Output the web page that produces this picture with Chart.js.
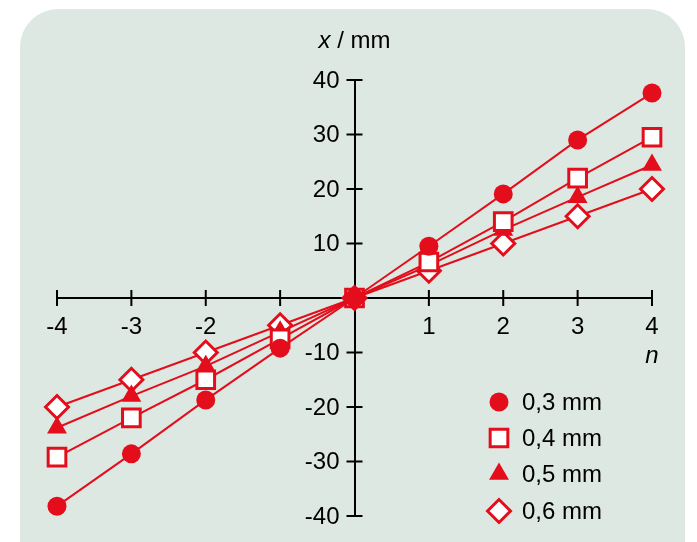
<!DOCTYPE html>
<html>
<head>
<meta charset="utf-8">
<script src="https://cdn.jsdelivr.net/npm/chart.js@4.4.0/dist/chart.umd.min.js"></script>
<style>
  html, body { margin: 0; padding: 0; background: #ffffff; }
  #wrap { position: relative; width: 697px; height: 542px; overflow: hidden; }
  #panel { position: absolute; left: 20px; top: 9px; width: 665px; height: 580px;
           background: #dee8e2; border-radius: 38px; }
  #c { position: absolute; left: 0; top: 0; }
</style>
</head>
<body>
<div id="wrap">
  <div id="panel"></div>
  <canvas id="c" width="697" height="542"></canvas>
</div>
<script>
// n-Werte (x-Achse)
const nValues = [-4, -3, -2, -1, 0, 1, 2, 3, 4];

// Auslenkung x / mm je Spaltabstand
const series03 = [-38.2, -28.6, -18.7, -9.2, 0, 9.5, 19.1, 29.0, 37.6];
const series04 = [-29.2, -22.0, -15.0, -7.5, 0, 6.6, 14.0, 22.0, 29.5];
const series05 = [-23.8, -18.0, -12.5, -6.2, 0, 6.0, 12.5, 18.5, 24.4];
const series06 = [-20.0, -15.0, -10.0, -5.0, 0, 5.0, 10.0, 15.0, 20.0];

const seriesLabels = ['0,3 mm', '0,4 mm', '0,5 mm', '0,6 mm'];
const xTitle = 'n';

const RED = '#e30d1b';
const FONT = '"Liberation Sans", Arial, sans-serif';
const FSIZE = 24;

function toPoints(values) {
  return values.map((v, i) => ({ x: nValues[i], y: v }));
}

function makeSet(label, values, style, filled, radius) {
  return {
    label: label,
    data: toPoints(values),
    borderColor: RED,
    borderWidth: 2,
    pointStyle: style,
    pointRadius: radius,
    pointHoverRadius: radius,
    pointBackgroundColor: filled ? RED : '#ffffff',
    pointBorderColor: RED,
    pointBorderWidth: filled ? 0 : 3,
    clip: false,
    tension: 0
  };
}

// Achsen-Striche kreuzen die Achse, y-Beschriftung + Achsentitel
const crossTicks = {
  id: 'crossTicks',
  beforeDatasetsDraw(chart) {
    const ctx = chart.ctx;
    const xs = chart.scales.x, ys = chart.scales.y;
    const x0 = xs.getPixelForValue(0), y0 = ys.getPixelForValue(0);
    ctx.save();
    ctx.strokeStyle = '#000';
    ctx.lineWidth = 2;
    ctx.beginPath();
    xs.ticks.forEach(t => {
      if (t.value === 0) return;
      const px = xs.getPixelForValue(t.value);
      ctx.moveTo(px, y0 - 8); ctx.lineTo(px, y0 + 8);
    });
    ys.ticks.forEach(t => {
      if (t.value === 0) return;
      const py = ys.getPixelForValue(t.value);
      ctx.moveTo(x0 - 8, py); ctx.lineTo(x0 + 8, py);
    });
    ctx.stroke();

    // y-Beschriftung links der Achse
    ctx.fillStyle = '#000';
    ctx.font = FSIZE + 'px ' + FONT;
    ctx.textAlign = 'right';
    ctx.textBaseline = 'middle';
    ys.ticks.forEach(t => {
      if (t.value === 0) return;
      ctx.fillText(String(t.value), x0 - 15, ys.getPixelForValue(t.value) + 1);
    });

    // Titel der y-Achse oben
    ctx.textAlign = 'left';
    ctx.textBaseline = 'alphabetic';
    const part1 = 'x', part2 = ' / mm';
    ctx.font = 'italic ' + FSIZE + 'px ' + FONT;
    const w1 = ctx.measureText(part1).width;
    ctx.font = FSIZE + 'px ' + FONT;
    const w2 = ctx.measureText(part2).width;
    const startX = x0 - (w1 + w2) / 2;
    ctx.font = 'italic ' + FSIZE + 'px ' + FONT;
    ctx.fillText(part1, startX, 48);
    ctx.font = FSIZE + 'px ' + FONT;
    ctx.fillText(part2, startX + w1, 48);

    // Titel der x-Achse rechts
    ctx.font = 'italic ' + FSIZE + 'px ' + FONT;
    ctx.textAlign = 'center';
    ctx.fillText(xTitle, xs.getPixelForValue(4), 363);
    ctx.restore();
  }
};

// Legende unten rechts
const cornerLegend = {
  id: 'cornerLegend',
  afterDatasetsDraw(chart) {
    const ctx = chart.ctx;
    const rowY = [402, 438, 474, 511];
    ctx.save();
    chart.data.datasets.forEach((ds, i) => {
      ctx.fillStyle = ds.pointBackgroundColor;
      ctx.strokeStyle = ds.pointBorderColor;
      ctx.lineWidth = ds.pointBorderWidth;
      Chart.helpers.drawPoint(ctx, {
        pointStyle: ds.pointStyle,
        radius: ds.pointRadius,
        borderWidth: ds.pointBorderWidth,
        rotation: 0
      }, 499, rowY[i]);
      ctx.fillStyle = '#000';
      ctx.font = FSIZE + 'px ' + FONT;
      ctx.textAlign = 'left';
      ctx.textBaseline = 'middle';
      ctx.fillText(ds.label, 522, rowY[i] + 1);
    });
    ctx.restore();
  }
};

new Chart(document.getElementById('c'), {
  type: 'line',
  data: {
    datasets: [
      makeSet(seriesLabels[0], series03, 'circle', true, 9.5),
      makeSet(seriesLabels[1], series04, 'rect', false, 12.5),
      makeSet(seriesLabels[2], series05, 'triangle', true, 11.5),
      makeSet(seriesLabels[3], series06, 'rectRot', false, 11.5)
    ]
  },
  options: {
    responsive: false,
    animation: false,
    layout: { padding: { left: 57, right: 45, top: 80, bottom: 26 } },
    plugins: { legend: { display: false }, tooltip: { enabled: false } },
    scales: {
      x: {
        type: 'linear',
        position: { y: 0 },
        min: -4, max: 4,
        grid: { display: false, drawTicks: false },
        border: { display: true, color: '#000', width: 2 },
        ticks: {
          stepSize: 1, autoSkip: false, maxRotation: 0,
          color: '#000', font: { family: FONT, size: FSIZE }, padding: 15,
          callback: v => (v === 0 ? '' : String(v))
        }
      },
      y: {
        type: 'linear',
        position: { x: 0 },
        min: -40, max: 40,
        grid: { display: false, drawTicks: false },
        border: { display: true, color: '#000', width: 2 },
        ticks: { stepSize: 10, autoSkip: false, display: false }
      }
    }
  },
  plugins: [crossTicks, cornerLegend]
});
</script>
</body>
</html>
